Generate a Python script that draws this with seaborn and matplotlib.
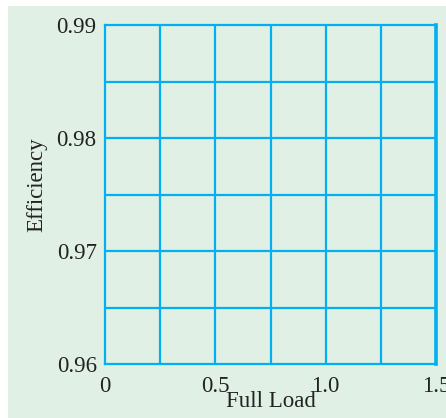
import numpy as np
import seaborn as sns
import matplotlib.pyplot as plt
from matplotlib.patches import Rectangle

# axis ranges and ticks (empty grid chart)
x_limits = [0, 1.5]
y_limits = [0.96, 0.99]
x_ticks = [0, 0.5, 1.0, 1.5]
x_tick_labels = ["0", "0.5", "1.0", "1.5"]
y_ticks = [0.96, 0.97, 0.98, 0.99]
y_tick_labels = ["0.96", "0.97", "0.98", "0.99"]
x_grid = [0.25, 0.5, 0.75, 1.0, 1.25]
y_grid = [0.965, 0.97, 0.975, 0.98, 0.985]

grid_color = "#00b0f0"
bg_color = "#e1f0e5"
text_color = "#222222"

sns.set_theme(style="white")
plt.rcParams["font.family"] = ["Liberation Serif", "DejaVu Serif"]

fig = plt.figure(figsize=(4.46, 4.18), dpi=100, facecolor="white")
# light green panel with thin white margin at top/left
fig.patches.append(
    Rectangle((8 / 446, 0), 1, 1 - 6 / 418, transform=fig.transFigure,
              facecolor=bg_color, edgecolor="none", zorder=-10)
)
ax = fig.add_axes([105 / 446, 1 - 364 / 418, 331 / 446, 339 / 418])
ax.set_facecolor(bg_color)

ax.set_xlim(x_limits)
ax.set_ylim(y_limits)
ax.set_xticks(x_ticks)
ax.set_xticklabels(x_tick_labels)
ax.set_yticks(y_ticks)
ax.set_yticklabels(y_tick_labels)
ax.tick_params(axis="y", length=0, labelsize=16.5, colors=text_color, pad=6)
ax.tick_params(axis="x", length=0, labelsize=16.5, colors=text_color, pad=9)

for x in x_grid:
    ax.axvline(x, color=grid_color, linewidth=1.6)
for y in y_grid:
    ax.axhline(y, color=grid_color, linewidth=1.6)

for side, spine in ax.spines.items():
    spine.set_visible(True)
    spine.set_color(grid_color)
    spine.set_linewidth(1.6)
ax.spines["right"].set_linewidth(2.6)

ax.set_xlabel("Full Load", fontsize=16.5, color=text_color, labelpad=-5)
ax.set_ylabel("Efficiency", fontsize=16.5, color=text_color)
ax.yaxis.set_label_coords(-0.175, 0.53)

fig.savefig("out.png", dpi=100, facecolor="white")
